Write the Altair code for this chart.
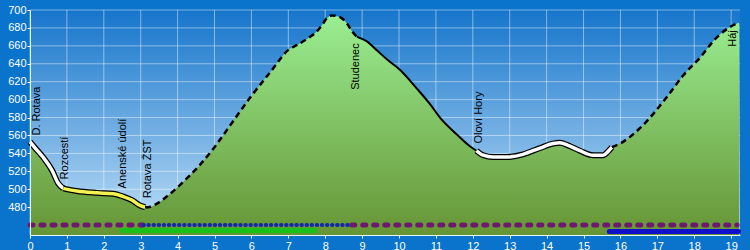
import altair as alt
import pandas as pd

# ---- data ----
km = [0, 0.14, 0.35, 0.6, 0.76, 0.9, 1.27, 1.82, 2.25, 2.52, 2.76, 2.98,
      3.12, 3.2, 3.44, 3.71, 4.07, 4.6, 5.0, 5.42, 5.96, 6.5, 7.05, 7.24,
      7.59, 7.72, 7.91, 8.05, 8.18, 8.4, 8.59, 8.73, 8.86, 9.13, 9.4, 9.67,
      10.03, 10.49, 10.84, 11.11, 11.57, 11.92, 12.1, 12.28, 12.55, 12.93, 13.36, 13.82,
      14.17, 14.36, 14.58, 14.9, 15.26, 15.53, 15.66, 15.77, 15.99, 16.55, 17.26, 17.7,
      18.16, 18.6, 18.97, 19.22]
elev = [553, 546, 536, 521, 507, 501, 498, 496, 495, 492, 488, 482,
        480, 480, 484, 492, 505, 527, 547, 571, 602, 630, 657, 661,
        670, 674, 683, 691, 694, 692, 685, 676, 670, 665, 655, 645,
        633, 612, 595, 580, 561, 548, 543, 538, 536, 536, 539, 546,
        551, 552, 549, 543, 538, 538, 542, 547, 551, 569, 603, 627,
        647, 669, 681, 686]

seg_start = [0, 0.9, 3.12, 8.86, 12.1, 15.77]
seg_end = [0.9, 3.12, 8.86, 12.1, 15.77, 19.22]
seg_style = ["white", "yellow", "dashed", "solid", "white", "dashed"]

place_names = ["D. Rotava", "Rozcestí", "Anenské údolí", "Rotava ŽST",
               "Studenec", "Oloví Hory", "Háj"]
place_km = [0.19, 0.95, 2.52, 3.2, 8.83, 12.17, 19.05]
place_elev = [560, 511, 501, 490, 611, 551, 659]

row1_start = [0, 3.07, 8.72]
row1_end = [3.07, 8.72, 19.16]
row1_kind = ["purple", "dots", "purple"]
row2_start = [2.44, 15.7]
row2_end = [7.78, 19.2]
row2_kind = ["green", "blue"]

x_ticks = list(range(0, 20))
y_ticks = list(range(480, 701, 20))

# ---- chart ----
W, H = 710, 225
FONT = "Liberation Sans"
Y_MIN = 449
xs = alt.Scale(domain=[0, 19.24], nice=False, zero=False)
ys = alt.Scale(domain=[Y_MIN, 700], nice=False, zero=False)
xaxis = alt.Axis(values=x_ticks, format="d", title=None, grid=False,
                 labelColor="white", labelFont=FONT, labelFontSize=11,
                 tickColor="white", tickSize=3, labelPadding=2,
                 domainColor="#e8f4ff", zindex=1, labelFlush=False)
yaxis = alt.Axis(values=y_ticks, format="d", title=None, grid=False,
                 labelColor="white", labelFont=FONT, labelFontSize=11,
                 tickColor="white", tickSize=3, labelPadding=1,
                 domainColor="#e8f4ff", zindex=1)

def X(f):
    return alt.X(f, scale=xs, axis=xaxis)

def Y(f):
    return alt.Y(f, scale=ys, axis=yaxis)

prof = pd.DataFrame({"km": km, "elev": elev})
places = pd.DataFrame({"name": place_names, "km": place_km, "elev": place_elev})
row1 = pd.DataFrame({"s": row1_start, "e": row1_end, "kind": row1_kind})
row2 = pd.DataFrame({"s": row2_start, "e": row2_end, "kind": row2_kind})

bg = alt.Chart(alt.Data(values=[{}])).mark_rect(
    fill=alt.Gradient(gradient="linear",
                      stops=[alt.GradientStop(color="#1675cb", offset=0),
                             alt.GradientStop(color="#c2e1f8", offset=1)],
                      x1=0, x2=0, y1=0, y2=1)
).encode(x=alt.value(0), x2=alt.value(W), y=alt.value(0), y2=alt.value(H))

gridx = alt.Chart(pd.DataFrame({"v": x_ticks})).mark_rule(
    color="white", opacity=0.45, strokeWidth=1
).encode(x=X("v:Q"))
gridy = alt.Chart(pd.DataFrame({"v": y_ticks})).mark_rule(
    color="white", opacity=0.45, strokeWidth=1
).encode(y=Y("v:Q"))

area = alt.Chart(prof).mark_area(
    interpolate="monotone",
    fill=alt.Gradient(gradient="linear",
                      stops=[alt.GradientStop(color="#9aee92", offset=0),
                             alt.GradientStop(color="#669535", offset=1)],
                      x1=0, x2=0, y1=0, y2=1)
).encode(x=X("km:Q"), y=Y("elev:Q"), y2=alt.datum(Y_MIN))

def band(df, kind, y, **kw):
    return alt.Chart(df[df.kind == kind]).mark_rule(**kw).encode(
        x=X("s:Q"), x2="e:Q", y=alt.value(y))

bands = [
    band(row1, "purple", 215, color="#6e1870", strokeWidth=5, strokeCap="round", strokeDash=[3, 8]),
    band(row1, "dots", 215, color="#1428a8", strokeWidth=4, strokeCap="round", strokeDash=[0.5, 4.6]),
    band(row2, "green", 220.5, color="#18c018", strokeWidth=5, strokeCap="butt"),
    band(row2, "blue", 221.5, color="#1010cc", strokeWidth=5, strokeCap="round"),
]

lines = []
for s, e, st in zip(seg_start, seg_end, seg_style):
    d = prof[(prof.km >= s - 1e-9) & (prof.km <= e + 1e-9)]
    enc = dict(x=X("km:Q"), y=Y("elev:Q"))
    base = alt.Chart(d)
    if st in ("white", "yellow"):
        lines.append(base.mark_line(interpolate="monotone", color="black", strokeWidth=6,
                                    strokeCap="butt").encode(**enc))
        lines.append(base.mark_line(interpolate="monotone",
                                    color="white" if st == "white" else "#f2f250",
                                    strokeWidth=3.5, strokeCap="butt").encode(**enc))
    elif st == "dashed":
        lines.append(base.mark_line(interpolate="monotone", color="black", strokeWidth=2.5,
                                    strokeDash=[6, 4]).encode(**enc))
    else:
        lines.append(base.mark_line(interpolate="monotone", color="black",
                                    strokeWidth=2).encode(**enc))

labels = alt.Chart(places).mark_text(
    angle=270, align="left", baseline="middle", font=FONT, fontSize=11, color="black"
).encode(x=X("km:Q"), y=Y("elev:Q"), text="name:N")

chart = alt.layer(bg, gridx, gridy, area, *bands, *lines, labels).properties(
    width=W, height=H,
    padding={"left": 30, "top": 10, "right": 10, "bottom": 15},
    autosize=alt.AutoSizeParams(type="none"),
    background="#0a74cc",
).configure_view(strokeWidth=0)

chart.save("out.html", embed_options={"renderer": "svg", "actions": False})
